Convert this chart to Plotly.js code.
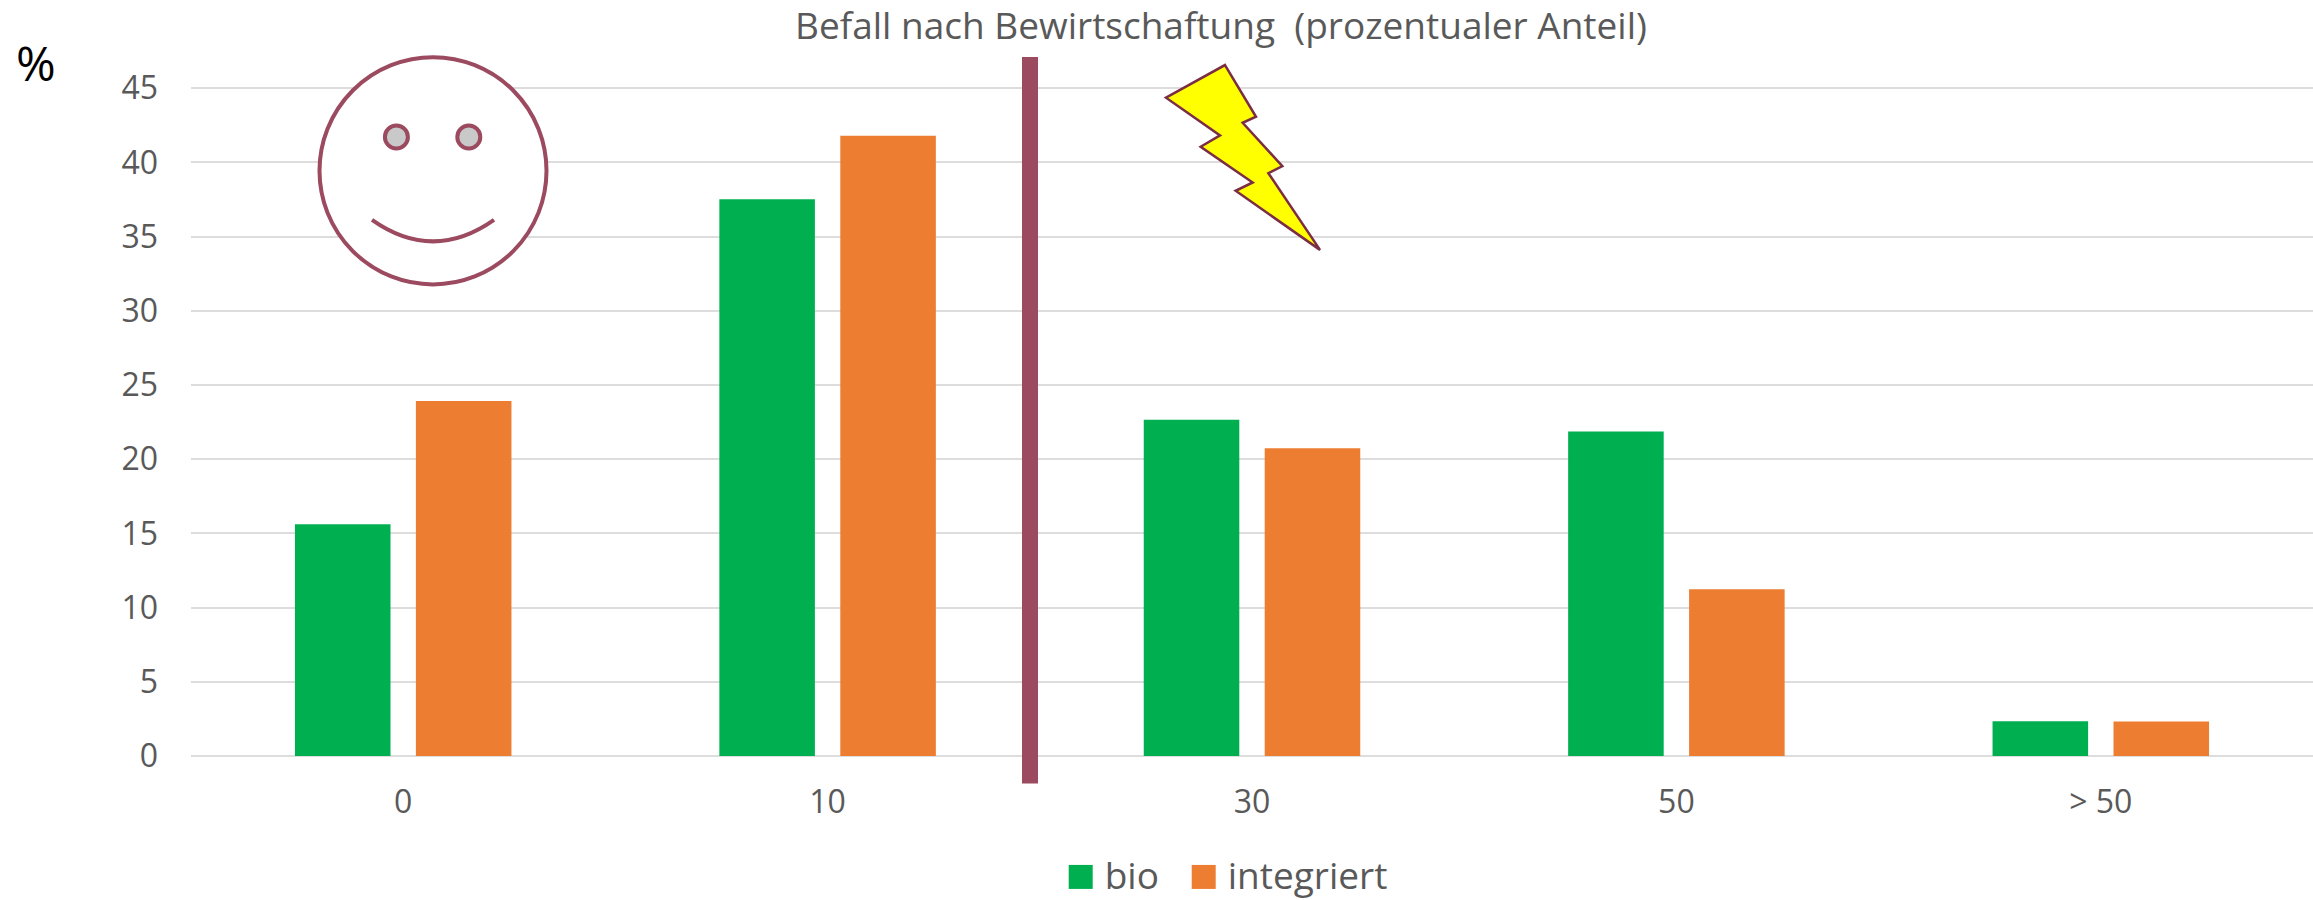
<!DOCTYPE html>
<html>
<head>
<meta charset="utf-8">
<script src="https://cdn.plot.ly/plotly-3.0.1.min.js"></script>
<style>html,body{margin:0;padding:0;background:#fff}#chart{width:2313px;height:900px}</style>
</head>
<body>
<div id="chart"></div>
<script>
const categories = ["0", "10", "30", "50", "> 50"];
const bioValues = [15.62, 37.52, 22.66, 21.87, 2.34];
const integriertValues = [23.92, 41.79, 20.73, 11.24, 2.32];
const yTicks = [0, 5, 10, 15, 20, 25, 30, 35, 40, 45];

const W = 2313, H = 900;
const L = 191, T = 57.3, B = 144.3;
const fx = p => (p - L) / (W - L);
const fy = p => 1 - (p - T) / (H - T - B);
const FONT = '"Open Sans", sans-serif';
const BERRY = '#9B4A5F';

const boltPts = [[825,196],[918,351],[878,369],[997,499],[955,520],[1110,750],[857,573],[908,548],[752,441],[810,407],[648,294]]
  .map(p => [950 + p[0] / 3, p[1] / 3]);
const boltPath = 'M' + boltPts.map(p => fx(p[0]) + ',' + fy(p[1])).join(' L') + ' Z';
const smilePath = 'M' + fx(372) + ',' + fy(220) + ' Q' + fx(433) + ',' + fy(263) + ' ' + fx(494) + ',' + fy(220);

const ell = (cx, cy, r, fill, w) => ({
  type: 'circle', xref: 'paper', yref: 'paper', layer: 'above',
  x0: fx(cx - r), x1: fx(cx + r), y0: fy(cy + r), y1: fy(cy - r),
  fillcolor: fill, line: {color: BERRY, width: w}
});

const layout = {
  width: W, height: H,
  paper_bgcolor: '#fff', plot_bgcolor: '#fff',
  margin: {l: L, r: 0, t: T, b: B, pad: 0, autoexpand: false},
  font: {family: FONT, color: '#595959', size: 32},
  title: {text: 'Befall nach Bewirtschaftung  (prozentualer Anteil)', font: {family: FONT, size: 37, color: '#595959'},
    x: 1221 / W, xanchor: 'center', xref: 'container', y: 1 - 26 / H, yanchor: 'middle'},
  barmode: 'group', bargap: 0.43, bargroupgap: 0.21,
  xaxis: {type: 'category', categoryorder: 'array', categoryarray: categories, range: [-0.5, 4.5],
    showgrid: false, zeroline: false, showline: false, ticks: '', ticklabelstandoff: 24, tickfont: {size: 32, color: '#595959', family: FONT}, automargin: false},
  yaxis: {range: [0, 47.1], tickvals: yTicks, ticktext: yTicks.map(String), showgrid: true, gridcolor: '#DDDDDD', gridwidth: 2,
    zeroline: true, zerolinecolor: '#DDDDDD', zerolinewidth: 2, showline: false, ticks: '', ticklabelstandoff: 32, tickfont: {size: 32, color: '#595959', family: FONT}, automargin: false},
  legend: {orientation: 'h', x: fx(1056.7), xanchor: 'left', y: fy(844), yanchor: 'top', itemwidth: 38, entrywidth: 70, entrywidthmode: 'pixels',
    font: {family: FONT, size: 37, color: '#595959'}, bgcolor: 'rgba(0,0,0,0)', traceorder: 'normal', itemclick: false, itemdoubleclick: false},
  annotations: [{text: '%', xref: 'paper', yref: 'paper', x: fx(36), y: fy(63), xanchor: 'center', yanchor: 'middle', showarrow: false,
    font: {family: FONT, size: 48, color: '#000'}}],
  shapes: [
    {type: 'rect', xref: 'paper', yref: 'paper', layer: 'above', x0: fx(1022), x1: fx(1038), y0: fy(783.3), y1: fy(57.3), fillcolor: BERRY, line: {width: 0}},
    ell(433, 171, 113.5, 'rgba(255,255,255,1)', 4),
    ell(396.4, 137.3, 11.5, '#C9C9C9', 4),
    ell(468.8, 137.3, 11.5, '#C9C9C9', 4),
    {type: 'path', xref: 'paper', yref: 'paper', layer: 'above', path: smilePath, line: {color: BERRY, width: 4}},
    {type: 'path', xref: 'paper', yref: 'paper', layer: 'above', path: boltPath, fillcolor: '#FFFF00', line: {color: '#7B2D43', width: 2.5}}
  ]
};

const traces = [
  {type: 'bar', name: 'bio', x: categories, y: bioValues, marker: {color: '#00B050'}, hoverinfo: 'x+y+name'},
  {type: 'bar', name: 'integriert', x: categories, y: integriertValues, marker: {color: '#ED7D31'}, hoverinfo: 'x+y+name'}
];

Plotly.newPlot('chart', traces, layout, {displayModeBar: false, responsive: false}).then(() => {
  document.querySelectorAll('.legend .legendbar, .legend .legendundefined').forEach(n => {
    n.setAttribute('d', 'M12,14H-12V-10H12Z');
  });
  document.querySelectorAll('.legend, .legend .scrollbox, .legend .traces, .legend .legendtext').forEach(n => n.removeAttribute('clip-path'));
  document.querySelectorAll('.legend *').forEach(n => { if (n.style && n.style.clipPath) n.style.clipPath = ''; });
});
</script>
</body>
</html>
